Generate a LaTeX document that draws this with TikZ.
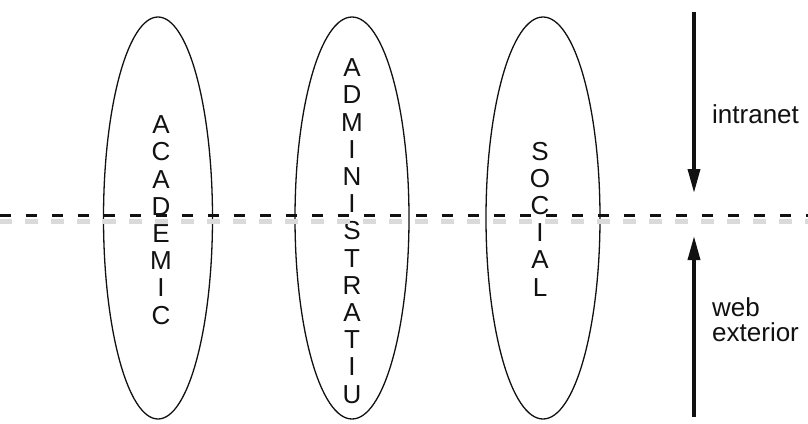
\documentclass[tikz,border=0pt]{standalone}
\usepackage{fontspec}
\setmainfont{Liberation Sans}
\usepackage{xcolor}
\usepackage{tikz}
\usetikzlibrary{arrows.meta,shapes.geometric}
\definecolor{ink}{HTML}{111111}
\definecolor{shade}{HTML}{DADADA}
\tikzset{
  zone/.style={ellipse, draw=ink, line width=1.3pt, inner sep=0pt, minimum height=402pt},
  letters/.style={text=ink, align=center, inner sep=0pt, font=\fontsize{26}{27.2}\selectfont},
  lbl/.style={text=ink, align=left, inner sep=0pt, font=\fontsize{26}{25}\selectfont},
  border/.style={draw=ink, line width=3pt, dash pattern=on 11pt off 15pt},
  bordershade/.style={draw=shade, line width=5pt, dash pattern=on 13pt off 13pt},
  flow/.style={draw=ink, line width=3.5pt, -{Triangle[length=24pt,width=12pt]}}
}

\begin{document}
\begin{tikzpicture}[x=1pt,y=-1pt]
  \useasboundingbox (0,0) rectangle (808,423);

  \node[zone, minimum width=109pt] (academic) at (158,218) {};
  \node[zone, minimum width=114pt] (admin) at (352,218) {};
  \node[zone, minimum width=114pt] (social) at (543,218) {};

  \node[letters] (academicTxt) at (161,220) {A\\C\\A\\D\\E\\M\\I\\C};
  \node[letters] (adminTxt) at (352,231) {A\\D\\M\\I\\N\\I\\S\\T\\R\\A\\T\\I\\U};
  \node[letters] (socialTxt) at (540,219) {S\\O\\C\\I\\A\\L};

  % boundary
  \coordinate (dashL) at (0,215);
  \coordinate (dashR) at (808,215);
  \draw[bordershade] ([yshift=-6pt,xshift=-1pt]dashL) -- ([yshift=-6pt]dashR);
  \draw[border] (dashL) -- (dashR);

  \coordinate (inTop) at (694,12);
  \coordinate (inTip) at (694,193);
  \coordinate (exBot) at (694,417);
  \coordinate (exTip) at (694,236);
  \draw[flow] (inTop) -- (inTip);
  \draw[flow] (exBot) -- (exTip);

  \node[lbl, anchor=base west] (intranet) at (712,123) {intranet};
  \node[lbl, anchor=west] (exterior) at (712,320) {web\\exterior};
\end{tikzpicture}
\end{document}
